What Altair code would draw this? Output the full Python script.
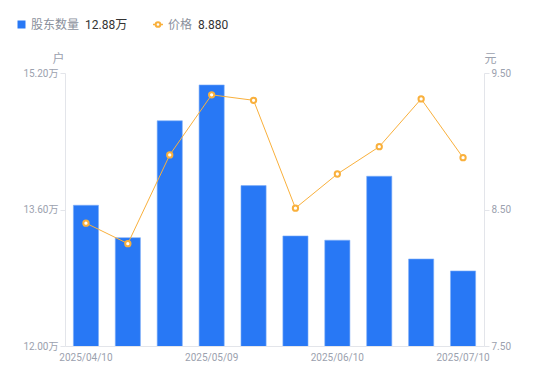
import altair as alt
import pandas as pd

dates = ["2025/04/10", "2025/04/18", "2025/04/30", "2025/05/09", "2025/05/20",
         "2025/05/30", "2025/06/10", "2025/06/20", "2025/06/30", "2025/07/10"]
holders = [13.65, 13.27, 14.64, 15.06, 13.88, 13.29, 13.24, 13.99, 13.02, 12.88]  # 万户
prices = [8.40, 8.25, 8.90, 9.34, 9.30, 8.51, 8.76, 8.96, 9.31, 8.88]
shown_dates = ["2025/04/10", "2025/05/09", "2025/06/10", "2025/07/10"]
left_ticks = [12.0, 13.6, 15.2]
right_ticks = [7.5, 8.5, 9.5]

BLUE = "#2878F5"
ORANGE = "#F9B03C"
GREY = "#9BA1AE"
AXIS = "#E3E5EA"
FONT = 'Roboto, "Noto Sans CJK SC", sans-serif'

df = pd.DataFrame({"date": dates, "holders": holders, "price": prices})

x_enc = alt.X(
    "date:N", sort=dates, title=None,
    scale=alt.Scale(paddingInner=0.4, paddingOuter=0.2),
    axis=alt.Axis(
        labelExpr="indexof(" + str(shown_dates) + ", datum.value) >= 0 ? datum.value : ''",
        labelAngle=0, ticks=False, domainColor=AXIS, labelColor=GREY,
        labelFontSize=10, labelPadding=6, labelFont=FONT, grid=False,
    ),
)

bars = alt.Chart(df).mark_bar(color=BLUE, stroke="#7FAEF8", strokeWidth=0.6, clip=True).encode(
    x=x_enc,
    y=alt.Y(
        "holders:Q",
        scale=alt.Scale(domain=[12.0, 15.2], zero=False, nice=False),
        axis=alt.Axis(
            values=left_ticks, labelExpr="format(datum.value, '.2f') + '万'",
            title="户", titleAngle=0, titleX=-7, titleY=-8, titleColor=GREY,
            titleFontWeight="normal", titleFontSize=12, titleFont=FONT,
            labelColor=GREY, labelFontSize=10, labelFont=FONT, tickSize=5,
            tickColor=AXIS, domainColor=AXIS, grid=False, labelPadding=2,
        ),
    ),
)

line = alt.Chart(df).mark_line(color=ORANGE, strokeWidth=1).encode(
    x=alt.X("date:N", sort=dates),
    y=alt.Y(
        "price:Q",
        scale=alt.Scale(domain=[7.5, 9.5], zero=False, nice=False),
        axis=alt.Axis(
            orient="right", values=right_ticks, format=".2f",
            title="元", titleAngle=0, titleX=6, titleY=-8, titleColor=GREY,
            titleFontWeight="normal", titleFontSize=12, titleFont=FONT,
            labelColor=GREY, labelFontSize=10, labelFont=FONT, tickSize=5,
            tickColor=AXIS, domainColor=AXIS, grid=False, labelPadding=2,
        ),
    ),
)

pts = alt.Chart(df).mark_point(
    filled=True, fill="white", stroke=ORANGE, strokeWidth=2, size=28, opacity=1
).encode(
    x=alt.X("date:N", sort=dates),
    y=alt.Y("price:Q", scale=alt.Scale(domain=[7.5, 9.5], zero=False, nice=False), axis=None),
)

# legend (top-left)
leg = pd.DataFrame({"name": ["股东数量", "价格"],
                    "val": [f"{holders[-1]:.2f}万", f"{prices[-1]:.3f}"]})
legend_y = -48.5
sq = alt.Chart(leg.iloc[[0]]).mark_square(color=BLUE, size=64, opacity=1).encode(
    x=alt.value(-43.5), y=alt.value(legend_y))
n1 = alt.Chart(leg.iloc[[0]]).mark_text(align="left", baseline="middle", fontSize=12,
                                        color="#8A909C", font=FONT).encode(
    x=alt.value(-34), y=alt.value(legend_y), text="name:N")
v1 = alt.Chart(leg.iloc[[0]]).mark_text(align="left", baseline="middle", fontSize=12,
                                        color="#333333", font=FONT).encode(
    x=alt.value(20), y=alt.value(legend_y), text="val:N")
lg = alt.Chart(leg.iloc[[1]]).mark_rule(color=ORANGE, strokeWidth=1.5).encode(
    x=alt.value(88), x2=alt.value(98), y=alt.value(legend_y))
lp = alt.Chart(leg.iloc[[1]]).mark_point(filled=True, fill="white", stroke=ORANGE,
                                         strokeWidth=2, size=22, opacity=1).encode(
    x=alt.value(93), y=alt.value(legend_y))
n2 = alt.Chart(leg.iloc[[1]]).mark_text(align="left", baseline="middle", fontSize=12,
                                        color="#8A909C", font=FONT).encode(
    x=alt.value(103), y=alt.value(legend_y), text="name:N")
v2 = alt.Chart(leg.iloc[[1]]).mark_text(align="left", baseline="middle", fontSize=12,
                                        color="#333333", font=FONT).encode(
    x=alt.value(133), y=alt.value(legend_y), text="val:N")

chart = alt.layer(bars, line, pts, sq, n1, v1, lg, lp, n2, v2).resolve_scale(
    y="independent"
).properties(
    width=419, height=273,
    autosize=alt.AutoSizeParams(type="none"),
    padding={"left": 57, "top": 65, "right": 58, "bottom": 27},
).configure_view(stroke=None)

chart.save("out.html", embed_options={"renderer": "svg", "actions": False})
